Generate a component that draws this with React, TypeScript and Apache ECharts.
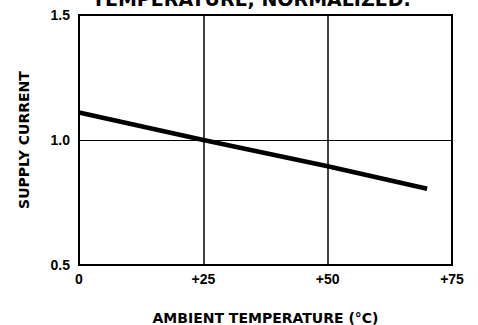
import React, { useEffect, useRef } from "react";
import * as echarts from "echarts";

const titleText = "TEMPERATURE, NORMALIZED.";
const xAxisName = "AMBIENT TEMPERATURE (°C)";
const yAxisName = "SUPPLY CURRENT";
const temperatures = [0, 25, 50, 70];
const supplyCurrent = [1.11, 1.0, 0.895, 0.805];
const xTickLabels: Record<number, string> = { 0: "0", 25: "+25", 50: "+50", 75: "+75" };
const yTickLabels: Record<string, string> = { "0.5": "0.5", "1": "1.0", "1.5": "1.5" };

export default function App() {
  const ref = useRef<HTMLDivElement>(null);
  useEffect(() => {
    if (!ref.current) return;
    const chart = echarts.init(ref.current, null, { renderer: "svg" });
    const labelFont = {
      color: "#000",
      fontFamily: "Liberation Sans",
      fontWeight: "bold" as const,
      fontSize: 14,
    };
    chart.setOption({
      animation: false,
      backgroundColor: "#fff",
      grid: {
        left: 79,
        right: 26,
        top: 15,
        bottom: 60,
        outerBoundsMode: "none",
        containLabel: false,
        show: true,
        borderColor: "#000",
        borderWidth: 2,
      },
      graphic: [
        {
          type: "text",
          x: 92,
          y: -11,
          style: {
            text: titleText,
            fill: "#000",
            fontFamily: "DejaVu Sans",
            fontWeight: "bold",
            fontSize: 19,
            verticalAlign: "top",
          },
        },
      ],
      xAxis: {
        type: "value",
        min: 0,
        max: 75,
        interval: 25,
        name: xAxisName,
        nameLocation: "middle",
        nameGap: 46,
        nameTextStyle: {
          color: "#000",
          fontFamily: "DejaVu Sans",
          fontWeight: "bold",
          fontSize: 14,
        },
        axisLine: { show: true, lineStyle: { color: "#000", width: 2 } },
        axisTick: { show: false },
        axisLabel: {
          ...labelFont,
          margin: 7,
          formatter: (v: number) => xTickLabels[v] ?? String(v),
        },
        splitLine: { show: true, lineStyle: { color: "#000", width: 1.5 } },
      },
      yAxis: {
        type: "value",
        min: 0.5,
        max: 1.5,
        interval: 0.5,
        name: yAxisName,
        nameLocation: "middle",
        nameGap: 48,
        nameTextStyle: {
          color: "#000",
          fontFamily: "DejaVu Sans",
          fontWeight: "bold",
          fontSize: 14,
        },
        axisLine: { show: true, lineStyle: { color: "#000", width: 2 } },
        axisTick: { show: false },
        axisLabel: {
          ...labelFont,
          margin: 9,
          formatter: (v: number) => yTickLabels[String(v)] ?? String(v),
        },
        splitLine: { show: true, lineStyle: { color: "#000", width: 1 } },
      },
      series: [
        {
          type: "line",
          data: temperatures.map((t, i) => [t, supplyCurrent[i]]),
          symbol: "none",
          lineStyle: { color: "#000", width: 4.5 },
        },
      ],
    });
    return () => chart.dispose();
  }, []);
  return (
    <div
      ref={ref}
      style={{ position: "fixed", left: 0, top: 0, width: 478, height: 325, background: "#fff" }}
    />
  );
}
